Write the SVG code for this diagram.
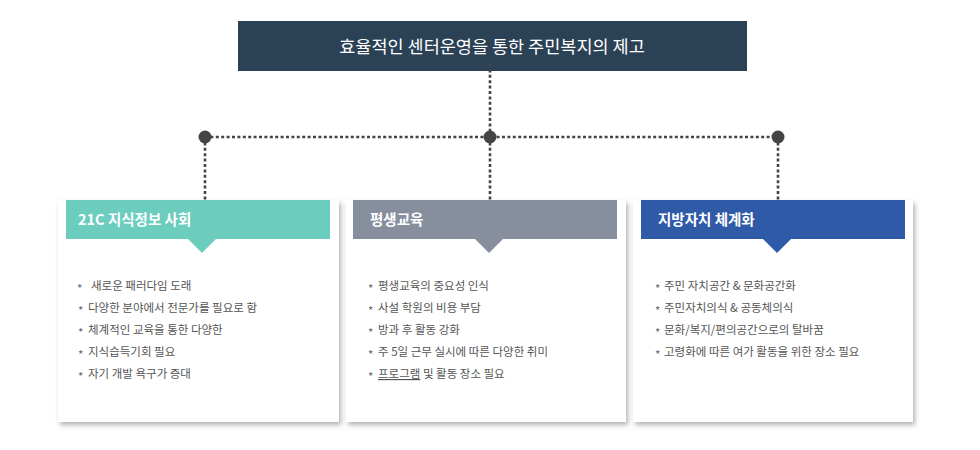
<svg xmlns="http://www.w3.org/2000/svg" width="980" height="450" viewBox="0 0 980 450">
<style>
text{font-family:"Noto Sans CJK KR","Noto Sans",sans-serif}
.title{font-size:17.5px;fill:#ffffff;text-anchor:middle}
.head{font-size:14.5px;font-weight:bold;fill:#ffffff}
.item{font-size:11.5px;fill:#555555}
.star{font-size:11.5px;fill:#666666}
.dot{fill:#444444}
.conn{stroke:#444444;stroke-width:2.6;stroke-dasharray:3 2.4;fill:none}
.panel{fill:#ffffff;filter:url(#sh)}
</style>
<defs>
<filter id="sh" x="-10%" y="-10%" width="125%" height="125%">
<feDropShadow dx="2" dy="3" stdDeviation="2.5" flood-color="#000000" flood-opacity="0.3"/>
</filter>
</defs>
<rect width="980" height="450" fill="#ffffff"/>
<g id="root">
<rect x="238" y="21" width="509" height="50" fill="#2b4156"/>
<text class="title" x="492" y="53">효율적인 센터운영을 통한 주민복지의 제고</text>
</g>
<g id="card1">
<rect class="panel" x="58" y="200" width="281" height="222"/>
<rect x="66" y="200" width="264" height="39" fill="#6ccdbf"/>
<polygon points="188,239 216,239 202,253" fill="#6ccdbf"/>
<text class="head" x="78" y="225">21C 지식정보 사회</text>
<text class="star" x="77" y="292.5">*</text><text class="item" x="91" y="290">새로운 패러다임 도래</text>
<text class="star" x="78" y="314.5">*</text><text class="item" x="88" y="312">다양한 분야에서 전문가를 필요로 함</text>
<text class="star" x="78" y="336.5">*</text><text class="item" x="88" y="334">체계적인 교육을 통한 다양한</text>
<text class="star" x="78" y="358.5">*</text><text class="item" x="88" y="356">지식습득기회 필요</text>
<text class="star" x="78" y="380.5">*</text><text class="item" x="88" y="378">자기 개발 욕구가 증대</text>
</g>
<g id="card2">
<rect class="panel" x="346" y="200" width="280" height="222"/>
<rect x="353" y="200" width="264" height="39" fill="#878e9e"/>
<polygon points="475,239 503,239 489,253" fill="#878e9e"/>
<text class="head" x="370" y="225">평생교육</text>
<text class="star" x="368" y="292.5">*</text><text class="item" x="378" y="290">평생교육의 중요성 인식</text>
<text class="star" x="368" y="314.5">*</text><text class="item" x="378" y="312">사설 학원의 비용 부담</text>
<text class="star" x="368" y="336.5">*</text><text class="item" x="378" y="334">방과 후 활동 강화</text>
<text class="star" x="368" y="358.5">*</text><text class="item" x="378" y="356">주 5일 근무 실시에 따른 다양한 취미</text>
<text class="star" x="368" y="380.5">*</text><text class="item" x="378" y="378"><tspan text-decoration="underline">프로그램</tspan> 및 활동 장소 필요</text>
</g>
<g id="card3">
<rect class="panel" x="633" y="200" width="280" height="222"/>
<rect x="641" y="200" width="264" height="39" fill="#2e5aa8"/>
<polygon points="763,239 791,239 777,253" fill="#2e5aa8"/>
<text class="head" x="658" y="225">지방자치 체계화</text>
<text class="star" x="655" y="292.5">*</text><text class="item" x="664" y="290">주민 자치공간 &amp; 문화공간화</text>
<text class="star" x="655" y="314.5">*</text><text class="item" x="664" y="312">주민자치의식 &amp; 공동체의식</text>
<text class="star" x="655" y="336.5">*</text><text class="item" x="664" y="334">문화/복지/편의공간으로의 탈바꿈</text>
<text class="star" x="655" y="358.5">*</text><text class="item" x="664" y="356">고령화에 따른 여가 활동을 위한 장소 필요</text>
</g>
<g id="connectors">
<path class="conn" d="M490 64 V137 M205 137 H778 M205 137 V200 M490 137 V200 M778 137 V200"/>
<circle class="dot" cx="205" cy="137" r="6.5"/>
<circle class="dot" cx="490" cy="137" r="6.5"/>
<circle class="dot" cx="778" cy="137" r="6.5"/>
</g>
</svg>
